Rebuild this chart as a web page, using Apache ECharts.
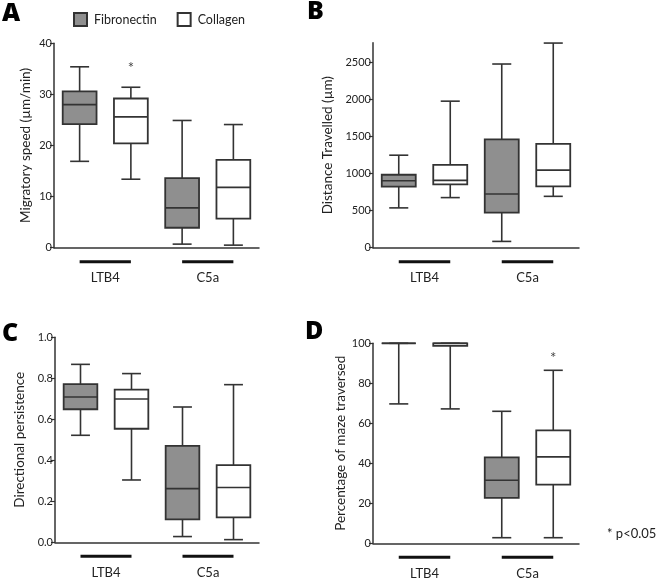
<!DOCTYPE html>
<html lang="en">
  <head>
    <meta charset="UTF-8" />
    <title>Migration box plots</title>
    <style>
      * {
        margin: 0;
        padding: 0;
      }
      html,
      body {
        width: 100%;
        height: 100%;
        background: #fff;
      }
      #chart {
        width: 660px;
        height: 581px;
      }
    </style>
    <script src="https://cdn.jsdelivr.net/npm/echarts@6/dist/echarts.min.js"></script>
  </head>
  <body>
    <div id="chart"></div>
    <script>
      // 分组 / 基质
      var groups = ["LTB4", "C5a"];
      var materials = ["Fibronectin", "Collagen"];

      // [min, Q1, median, Q3, max]，按 LTB4, C5a 顺序
      var speedFib = [[16.9, 24.2, 28.0, 30.6, 35.4], [0.7, 3.9, 7.8, 13.6, 24.9]];
      var speedCol = [[13.4, 20.4, 25.6, 29.2, 31.4], [0.5, 5.7, 11.8, 17.2, 24.1]];
      var distFib = [[538, 824, 905, 986, 1250], [85, 475, 726, 1465, 2482]];
      var distCol = [[677, 856, 910, 1120, 1980], [694, 829, 1048, 1402, 2765]];
      var persFib = [[0.522, 0.649, 0.709, 0.772, 0.868], [0.028, 0.112, 0.262, 0.47, 0.66]];
      var persCol = [[0.304, 0.554, 0.699, 0.745, 0.823], [0.013, 0.122, 0.267, 0.376, 0.769]];
      var mazeFib = [[69.7, 100, 100, 100, 100], [2.8, 22.7, 31.5, 43.0, 66.0]];
      var mazeCol = [[67.2, 98.7, 100, 100, 100], [2.8, 29.3, 43.2, 56.5, 86.5]];

      // 刻度
      var speedTicks = [0, 10, 20, 30, 40];
      var distTicks = [0, 500, 1000, 1500, 2000, 2500];
      var persTicks = [0, 0.2, 0.4, 0.6, 0.8, 1.0];
      var mazeTicks = [0, 20, 40, 60, 80, 100];

      // 显著性星号 [panel, 箱子序号, y 值]
      var sigMarks = [[0, 1, 35.7], [3, 3, 94]];

      var FONT = "Lato";
      var INK = "#333";

      var panels = [
        { letter: "A", name: "Migratory speed (\u00b5m/min)", fib: speedFib, col: speedCol, ticks: speedTicks, max: 40, nameGap: 21,
          grid: { left: 54, top: 43.3, width: 205, height: 204.4 } },
        { letter: "B", name: "Distance Travelled (\u00b5m)", fib: distFib, col: distCol, ticks: distTicks, max: 2770, nameGap: 38,
          grid: { left: 373, top: 42.7, width: 206, height: 205 } },
        { letter: "C", name: "Directional persistence", fib: persFib, col: persCol, ticks: persTicks, max: 1, nameGap: 28,
          grid: { left: 55, top: 337.3, width: 204, height: 205 } },
        { letter: "D", name: "Percentage of maze traversed", fib: mazeFib, col: mazeCol, ticks: mazeTicks, max: 100, nameGap: 25,
          grid: { left: 373, top: 343.3, width: 206, height: 200 } },
      ];
      var letterPos = [[2, 1], [307, -1], [2, 321], [305, 319]];

      // 箱线图
      function renderBox(params, api) {
        var cat = api.value(0);
        var x = api.coord([cat, 0])[0];
        var band = api.size([1, 0])[0];
        var bw = band * 0.33;
        var cw = band * 0.185;
        var y = [1, 2, 3, 4, 5].map(function (i) {
          return api.coord([cat, api.value(i)])[1];
        });
        var line = { stroke: INK, lineWidth: 1.6 };
        return {
          type: "group",
          children: [
            { type: "line", shape: { x1: x, y1: y[3], x2: x, y2: y[4] }, style: line },
            { type: "line", shape: { x1: x, y1: y[1], x2: x, y2: y[0] }, style: line },
            { type: "line", shape: { x1: x - cw, y1: y[4], x2: x + cw, y2: y[4] }, style: line },
            { type: "line", shape: { x1: x - cw, y1: y[0], x2: x + cw, y2: y[0] }, style: line },
            {
              type: "rect",
              shape: { x: x - bw, y: y[3], width: 2 * bw, height: y[1] - y[3] },
              style: { fill: api.visual("color"), stroke: INK, lineWidth: 1.8 },
            },
            { type: "line", shape: { x1: x - bw, y1: y[2], x2: x + bw, y2: y[2] }, style: line },
          ],
        };
      }

      // 分组横线
      function renderGroupLine(params, api) {
        var p0 = api.coord([api.value(0), 0]);
        var p1 = api.coord([api.value(1), 0]);
        return {
          type: "line",
          shape: { x1: p0[0], y1: p0[1] + 14, x2: p1[0], y2: p1[1] + 14 },
          style: { stroke: "#111", lineWidth: 3 },
        };
      }

      function renderStar(params, api) {
        var p = api.coord([api.value(0), api.value(1)]);
        return {
          type: "text",
          x: p[0],
          y: p[1] + 3,
          style: { text: "*", fontSize: 15, fontFamily: FONT, fill: "#444", align: "center", verticalAlign: "middle" },
        };
      }

      var grid = [], xAxis = [], yAxis = [], series = [], graphic = [];
      panels.forEach(function (p, k) {
        grid.push(p.grid);
        // 箱子轴
        xAxis.push({
          type: "category",
          gridIndex: k,
          data: [0, 1, 2, 3],
          boundaryGap: true,
          axisLine: { lineStyle: { color: INK, width: 1.5 } },
          axisTick: { alignWithLabel: true, length: 5, lineStyle: { color: INK, width: 1.5 } },
          axisLabel: { show: false },
          splitLine: { show: false },
        });
        // 分组标签轴
        xAxis.push({
          type: "category",
          gridIndex: k,
          position: "bottom",
          offset: 18,
          data: groups,
          axisLine: { show: false },
          axisTick: { show: false },
          axisLabel: { fontFamily: FONT, fontSize: 13, color: "#222", margin: 6 },
        });
        yAxis.push({
          type: "value",
          gridIndex: k,
          min: 0,
          max: p.max,
          interval: p.ticks[1] - p.ticks[0],
          name: p.name,
          nameLocation: "middle",
          nameGap: p.nameGap,
          nameTextStyle: { fontFamily: FONT, fontSize: 13.5, color: "#222" },
          axisLine: { show: true, lineStyle: { color: INK, width: 1.5 } },
          axisTick: { show: true, length: 4, customValues: p.ticks, lineStyle: { color: INK, width: 1.2 } },
          axisLabel: {
            customValues: p.ticks,
            margin: 2,
            fontFamily: FONT,
            fontSize: 11,
            color: "#222",
            formatter: function (v) {
              return p.max === 1 ? v.toFixed(1) : String(v);
            },
          },
          splitLine: { show: false },
        });
        [p.fib, p.col].forEach(function (arr, m) {
          series.push({
            name: materials[m],
            type: "custom",
            xAxisIndex: 2 * k,
            yAxisIndex: k,
            itemStyle: { color: m === 0 ? "#8f8f8f" : "#ffffff", borderColor: INK, borderWidth: 2 },
            renderItem: renderBox,
            data: arr.map(function (v, g) {
              return [2 * g + m].concat(v);
            }),
            silent: true,
          });
        });
        series.push({
          type: "custom",
          xAxisIndex: 2 * k,
          yAxisIndex: k,
          renderItem: renderGroupLine,
          clip: false,
          silent: true,
          data: [[0, 1], [2, 3]],
        });
        var stars = sigMarks.filter(function (s) { return s[0] === k; });
        if (stars.length) {
          series.push({
            type: "custom",
            xAxisIndex: 2 * k,
            yAxisIndex: k,
            renderItem: renderStar,
            silent: true,
            data: stars.map(function (s) { return [s[1], s[2]]; }),
          });
        }
        graphic.push({
          type: "text",
          left: letterPos[k][0],
          top: letterPos[k][1],
          style: { text: p.letter, fontFamily: "Open Sans", fontWeight: 800, fontSize: 25, fill: "#000" },
        });
      });

      graphic.push({
        type: "text",
        left: 607,
        top: 527,
        style: { text: "* p<0.05", fontFamily: FONT, fontSize: 13, fill: "#222" },
      });

      var option = {
        animation: false,
        backgroundColor: "#fff",
        legend: {
          left: 73,
          top: 12,
          padding: 0,
          itemWidth: 13,
          itemHeight: 13,
          itemGap: 20,
          selectedMode: false,
          textStyle: { fontFamily: FONT, fontSize: 12.5, color: "#222", padding: [0, 0, 0, 2] },
          data: [
            { name: "Fibronectin", icon: "rect", itemStyle: { color: "#8f8f8f", borderColor: INK, borderWidth: 2 } },
            { name: "Collagen", icon: "rect", itemStyle: { color: "#ffffff", borderColor: INK, borderWidth: 2 } },
          ],
        },
        grid: grid,
        xAxis: xAxis,
        yAxis: yAxis,
        series: series,
        graphic: graphic,
      };

      var myChart = echarts.init(document.getElementById("chart"));
      myChart.setOption(option);
    </script>
  </body>
</html>
